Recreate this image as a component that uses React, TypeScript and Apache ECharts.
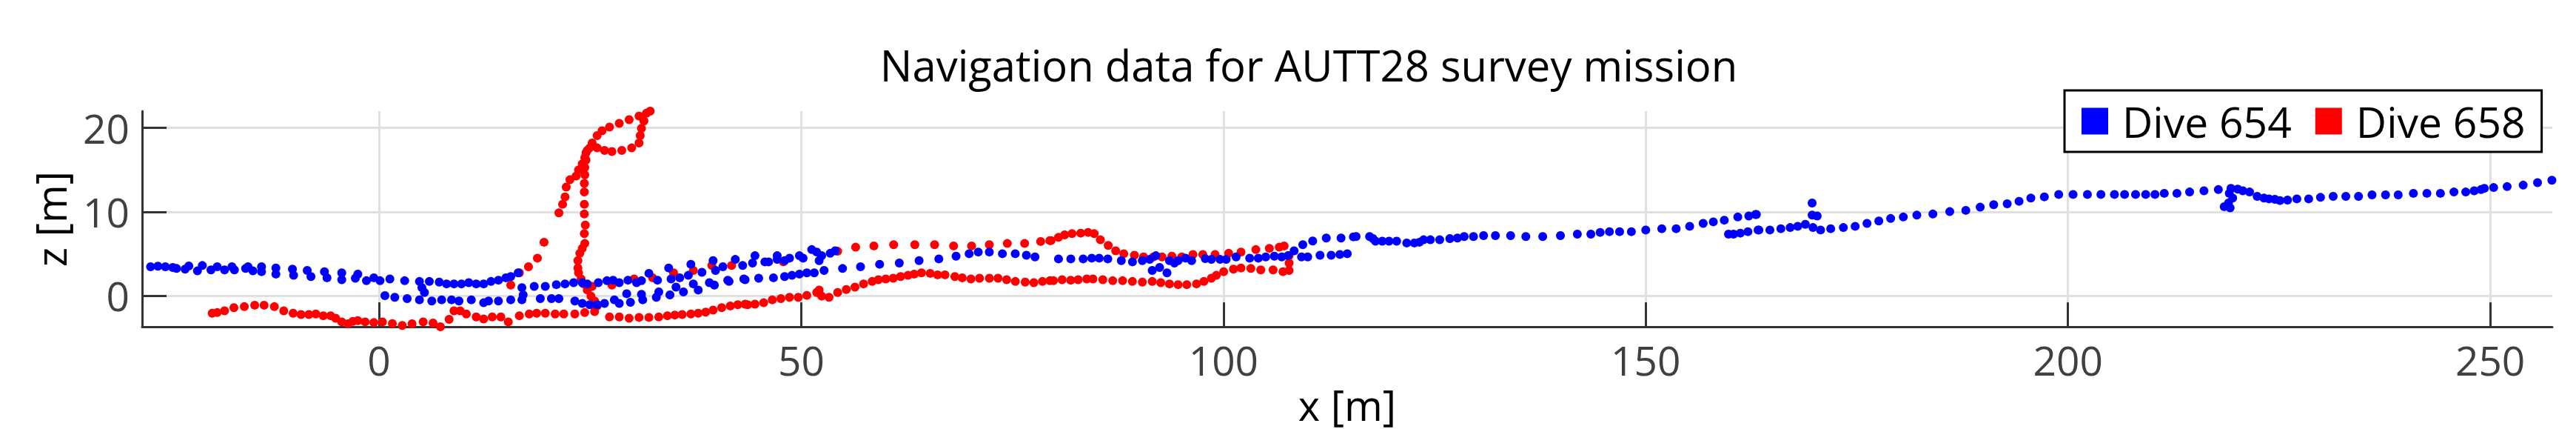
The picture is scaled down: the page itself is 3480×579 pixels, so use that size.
import React, { useEffect, useRef } from "react";
import * as echarts from "echarts";

type Pt = [number, number];

const TITLE = "Navigation data for AUTT28 survey mission";
const X_NAME = "x [m]";
const Z_NAME = "z [m]";
const X_TICKS = [0, 50, 100, 150, 200, 250];
const Z_TICKS = [0, 10, 20];
const X_MIN = -28.05;
const X_MAX = 257.35;
const Z_MIN = -3.72;
const Z_MAX = 22.0;
const SERIES_NAMES = ["Dive 654", "Dive 658"];

// ---- Dive 654 (blue) ----
const dive654West: Pt[] = [
  [-27.05, 3.45], [-26.18, 3.51], [-25.3, 3.45], [-24.42, 3.36], [-23.98, 3.24], [-22.96, 3.16],
  [-22.52, 3.53], [-21.5, 2.95], [-20.92, 3.59], [-19.9, 3.07], [-19.16, 3.45], [-18.29, 3.07],
  [-17.41, 3.45], [-17.12, 3.07], [-15.8, 3.24], [-15.51, 3.45], [-14.93, 2.95], [-13.91, 3.45],
  [-13.91, 2.86], [-12.21, 3.3], [-12.21, 2.57], [-10.25, 3.16], [-10.11, 2.42], [-8.5, 3.01],
  [-8.06, 2.28], [-6.46, 2.86], [-6.16, 2.13], [-4.41, 2.72], [-4.41, 1.9], [-2.8, 2.07],
  [-2.51, 2.57], [-1.49, 1.78], [-0.61, 2.13], [0.12, 1.78], [1.29, 1.99], [3.04, 1.78],
];

const dive654Box: Pt[] = [
  [4.79, 1.69], [5.96, 1.69], [7.13, 1.61], [5.08, 0.96], [5.38, 0.38],
  [0.7, 0.0], [1.87, -0.2], [3.33, -0.35], [4.79, -0.5], [6.25, -0.64], [7.42, -0.5],
  [8.0, 1.4], [8.88, 1.4], [9.76, 1.4], [10.63, 1.55], [11.51, 1.4], [12.39, 1.4],
  [13.26, 1.69], [14.14, 1.84], [15.02, 2.13], [15.6, 2.28], [16.48, 2.72],
  [16.92, 0.96], [17.07, 0.09], [16.92, -0.5],
  [15.6, -0.5], [14.14, -0.64], [12.97, -0.64], [12.39, -0.85], [10.93, -0.5], [9.47, -0.64], [8.59, -0.5],
];

const dive654Middle: Pt[] = [
  [18.38, 1.11], [19.69, 1.11], [21.0, 1.31], [22.03, 1.4], [23.05, 1.55], [24.07, 1.55],
  [24.66, 1.4], [25.97, 1.55], [26.99, 1.78], [27.72, 1.84], [28.45, 1.55], [29.48, 1.84],
  [30.5, 1.55], [31.08, 1.78], [31.96, 2.66], [32.98, 1.84], [34.3, 3.3], [34.59, 1.99],
  [35.61, 2.13], [36.63, 2.42], [36.93, 3.74], [38.24, 2.78], [39.56, 4.18], [39.85, 3.01],
  [40.72, 3.45], [41.45, 1.69], [42.19, 4.32], [43.06, 3.59], [43.2, 1.99],
  [19.1, -0.35], [20.42, -0.35], [21.3, -0.35], [23.19, -0.64], [24.07, -0.93], [24.95, -1.08],
  [25.83, -1.08], [26.7, -0.93], [27.87, -0.5], [28.45, -0.93], [29.33, 0.23], [29.77, -0.79],
  [31.08, 0.15], [31.23, -0.5], [32.84, -0.2], [33.13, 0.44], [34.45, 0.09], [35.17, 1.02],
  [36.05, 0.44], [37.22, 1.4], [37.8, 0.67], [39.12, 1.55], [39.71, 1.26], [41.3, 1.84],
];

const dive654Loop: Pt[] = [
  [44.23, 3.89], [44.52, 4.76], [45.69, 4.03], [46.13, 4.03], [47.15, 4.76], [47.15, 4.32],
  [48.03, 4.18], [48.61, 4.47], [49.78, 4.76], [50.22, 4.47], [51.24, 5.49], [51.83, 5.2],
  [52.42, 4.76], [52.12, 4.18], [52.7, 3.01], [51.54, 2.72], [50.66, 2.72], [49.78, 2.57],
  [48.9, 2.42], [48.03, 2.28], [46.71, 2.13], [44.96, 2.07], [43.35, 1.9], [53.43, 5.05], [54.02, 5.35],
];

const dive654Center: Pt[] = [
  [54.89, 3.24], [57.02, 3.45], [59.28, 3.74], [61.61, 3.89], [63.95, 4.18], [66.29, 4.38],
  [68.33, 4.7], [69.88, 5.0], [70.96, 5.2], [72.27, 5.2], [73.82, 5.0], [75.34, 5.0],
  [76.66, 4.82], [77.68, 4.62], [80.46, 4.38], [81.92, 4.38], [83.38, 4.38], [84.4, 4.47],
  [85.28, 4.47], [86.3, 4.38], [87.9, 4.18], [89.22, 4.03], [90.39, 4.18], [91.26, 4.32],
  [91.99, 4.76], [91.56, 3.01], [92.43, 3.36], [93.31, 2.72], [93.6, 4.18], [94.19, 3.89],
  [94.63, 4.18], [95.5, 4.47], [96.23, 4.18], [97.84, 4.41], [98.57, 4.32], [99.59, 4.32],
  [100.32, 4.32], [101.49, 4.62], [103.1, 4.47], [104.12, 4.47], [105.0, 4.62], [106.02, 4.7],
  [106.9, 4.62], [107.63, 4.76], [108.36, 5.35], [109.39, 6.08], [110.56, 6.51], [112.17, 6.87],
  [113.92, 6.87], [115.38, 7.01],
  [109.24, 4.62], [109.97, 4.62], [111.43, 4.82], [112.75, 4.82], [113.78, 4.91], [114.66, 5.0],
];

const dive654East: Pt[] = [
  [115.7, 7.04], [117.3, 7.04], [117.7, 6.8], [118.0, 6.5], [118.8, 6.5], [119.6, 6.5],
  [120.5, 6.5], [121.7, 6.28], [122.6, 6.28], [123.2, 6.37], [123.7, 6.66], [124.5, 6.66],
  [125.6, 6.66], [126.8, 6.8], [127.7, 6.87], [128.5, 7.04], [129.6, 7.04], [130.8, 7.16],
  [132.2, 7.16], [134.0, 7.16], [135.8, 7.04], [137.8, 7.04], [139.9, 7.16], [141.9, 7.33],
  [143.5, 7.33], [144.6, 7.54], [145.7, 7.63], [146.9, 7.63], [148.3, 7.63], [150.0, 7.83],
  [151.9, 7.98], [153.6, 7.98], [155.2, 8.27], [156.8, 8.62], [158.0, 8.8], [159.3, 9.0],
  [160.9, 9.38], [162.2, 9.5], [163.0, 9.67], [163.1, 9.67],
  [159.8, 7.33], [160.4, 7.33], [161.2, 7.45], [162.1, 7.63], [163.3, 7.83], [163.4, 7.83],
  [164.7, 7.83], [166.0, 7.98], [167.1, 8.12], [168.0, 8.27], [168.9, 8.5], [169.7, 11.05],
  [169.7, 9.6], [170.3, 9.5], [169.8, 8.12], [170.7, 7.83], [171.9, 7.98], [173.4, 8.12],
  [174.8, 8.27], [176.2, 8.62], [177.6, 8.9], [179.0, 9.2], [180.5, 9.38], [182.1, 9.6],
  [184.0, 9.73], [186.0, 10.02], [187.9, 10.17], [189.6, 10.55], [191.2, 10.84], [192.8, 10.96],
  [194.2, 11.25], [195.6, 11.63], [197.2, 11.78], [198.9, 12.07], [200.6, 12.07], [202.3, 12.07],
  [203.9, 12.07], [205.5, 12.07], [206.7, 12.07], [208.0, 12.07], [209.2, 12.07], [210.3, 12.07],
  [211.4, 12.2], [212.9, 12.2], [214.4, 12.36], [216.1, 12.5], [217.8, 12.65], [219.3, 12.8],
  [220.1, 12.7], [220.7, 12.5], [221.5, 12.36], [219.1, 12.2], [219.5, 11.63], [219.0, 11.05],
  [218.5, 10.61], [219.2, 10.46], [222.4, 11.84], [223.2, 11.63], [223.8, 11.54], [224.5, 11.49],
  [225.1, 11.34], [226.0, 11.4], [227.1, 11.54], [228.5, 11.54], [229.9, 11.72], [231.4, 11.84],
  [232.9, 11.84], [234.4, 11.84], [236.0, 12.01], [237.6, 12.01], [239.1, 12.01], [240.9, 12.2],
  [242.5, 12.2], [244.1, 12.2], [245.7, 12.36], [247.1, 12.36], [248.1, 12.5], [248.9, 12.65],
  [249.3, 12.8], [250.4, 12.89], [252.0, 13.0], [253.9, 13.18], [255.6, 13.47], [257.3, 13.76],
];

// ---- Dive 658 (red) ----
const dive658West: Pt[] = [
  [-19.75, -2.1], [-19.16, -2.02], [-18.29, -1.81], [-17.18, -1.43], [-15.95, -1.31], [-14.72, -1.14],
  [-13.61, -1.14], [-12.39, -1.31], [-11.28, -1.81], [-10.17, -2.1], [-9.23, -2.25], [-8.3, -2.25],
  [-7.48, -2.19], [-6.6, -2.4], [-5.73, -2.4], [-5.14, -2.69], [-4.41, -3.13], [-3.68, -3.36],
  [-3.1, -3.07], [-2.51, -2.98], [-1.64, -3.13], [-0.61, -3.21], [0.41, -3.13], [1.58, -3.33],
  [2.75, -3.56], [3.91, -3.36], [5.23, -3.13], [6.4, -3.27], [7.27, -3.71], [7.42, -3.86],
  [8.3, -2.83], [8.88, -1.81], [9.61, -1.81], [10.34, -2.19], [11.51, -2.54], [12.39, -2.78],
  [13.41, -2.54], [14.43, -2.54], [15.31, -3.13], [16.62, -2.4], [17.79, -2.19], [18.67, -2.1],
  [19.69, -2.1], [20.86, -2.19], [21.88, -2.19], [23.19, -2.19], [24.36, -2.02], [25.53, -1.9],
];

const dive658Climb: Pt[] = [
  [15.6, 1.26], [16.62, 2.72], [17.7, 3.45], [18.76, 4.47], [19.54, 6.37], [21.3, 9.87],
  [21.74, 10.9], [22.03, 11.77], [22.17, 12.94], [22.61, 13.82], [23.34, 14.26], [23.63, 14.99],
  [24.07, 15.72], [24.37, 16.45], [24.66, 17.32], [25.24, 18.2], [25.83, 19.08], [26.41, 19.66],
  [27.29, 20.1], [28.45, 20.54], [29.62, 20.98], [30.79, 21.41], [31.67, 21.76], [32.11, 22.0],
  [31.37, 20.83], [31.08, 19.95], [30.93, 19.08], [30.79, 18.2], [29.92, 17.62], [28.75, 17.32],
  [27.58, 17.18], [26.7, 17.32], [25.83, 17.62], [24.95, 17.62], [24.51, 17.03], [24.51, 16.16],
  [24.37, 15.28], [24.37, 14.4], [24.31, 13.38], [24.31, 12.36], [24.31, 10.9], [24.31, 9.73],
  [24.43, 8.41], [24.31, 7.39], [24.37, 6.22], [24.07, 5.64], [23.78, 5.05], [23.55, 4.18],
  [23.55, 3.3], [23.63, 2.72], [23.93, 1.99], [24.22, 1.4], [24.66, 0.67], [25.1, -0.06],
  [25.53, -0.64], [25.83, -1.23],
];

const dive658Upper: Pt[] = [
  [25.24, 1.11], [27.58, 1.26], [30.21, 1.99], [32.4, 2.13], [34.88, 2.72], [37.22, 3.01],
  [39.41, 3.59], [41.75, 3.59], [47.88, 4.03], [54.31, 5.29], [56.44, 5.78], [58.6, 5.93],
  [60.94, 6.08], [63.45, 6.08], [65.79, 6.08], [68.04, 5.93], [70.17, 5.93], [72.27, 6.08],
  [74.4, 6.22], [76.45, 6.22], [78.35, 6.46], [79.43, 6.57], [79.58, 6.57], [80.46, 6.95],
  [81.19, 7.25], [82.06, 7.39], [83.09, 7.45], [83.96, 7.54], [84.69, 7.39], [85.42, 6.66],
  [86.35, 5.99], [87.23, 5.35], [88.19, 5.0], [89.45, 4.82], [90.53, 4.62], [91.7, 4.62],
  [92.72, 4.62], [93.89, 4.7], [95.06, 4.62], [96.38, 4.91], [97.55, 4.91], [99.0, 4.91],
  [100.61, 5.05], [102.07, 5.2], [103.83, 5.49], [105.43, 5.64], [106.6, 5.78], [107.18, 5.93],
  [107.77, 4.76], [107.77, 3.89], [107.77, 3.01],
];

const dive658Lower: Pt[] = [
  [27.29, -2.54], [28.45, -2.54], [29.62, -2.69], [30.79, -2.6], [31.96, -2.6], [33.13, -2.54],
  [34.15, -2.4], [35.03, -2.31], [35.9, -2.25], [36.93, -2.19], [37.8, -2.1], [38.68, -1.96],
  [39.56, -1.72], [40.58, -1.43], [41.6, -1.23], [42.48, -1.08], [43.35, -1.02], [43.65, -1.08],
  [44.52, -1.02], [45.55, -0.85], [46.57, -0.5], [47.59, -0.35], [48.61, -0.2], [49.64, -0.2],
  [50.66, 0.03], [51.83, 0.38], [52.12, 0.67], [52.42, -0.06], [53.29, -0.2], [54.31, 0.38],
  [55.33, 0.73], [56.36, 1.02], [57.38, 1.4], [58.4, 1.69], [59.13, 1.9], [60.01, 1.99],
  [60.89, 2.07], [61.76, 2.28], [62.64, 2.42], [63.37, 2.57], [64.24, 2.72], [65.27, 2.66],
  [66.14, 2.48], [67.02, 2.48], [68.19, 2.28], [69.06, 2.13], [70.09, 1.99], [71.11, 2.07],
  [72.28, 2.07], [73.3, 2.07], [74.32, 1.9], [75.35, 1.69], [76.52, 1.61], [77.54, 1.55],
  [78.56, 1.69], [79.44, 1.78], [79.87, 1.78], [80.89, 1.9], [81.91, 1.84], [82.79, 1.9],
  [83.81, 1.99], [84.54, 1.99], [85.71, 1.9], [86.88, 1.78], [88.05, 1.78], [89.21, 1.69],
  [90.39, 1.61], [91.56, 1.69], [92.57, 1.55], [93.6, 1.4], [94.62, 1.31], [95.65, 1.31],
  [96.8, 1.4], [97.68, 1.69], [98.56, 2.07], [99.15, 2.42], [100.02, 2.86], [101.18, 3.16],
  [102.07, 3.3], [103.24, 3.24], [104.41, 3.07], [105.87, 3.07], [107.04, 2.86],
];

const dive654: Pt[] = [...dive654West, ...dive654Box, ...dive654Middle, ...dive654Loop, ...dive654Center, ...dive654East];
const dive658: Pt[] = [...dive658West, ...dive658Climb, ...dive658Upper, ...dive658Lower];

const FONT = "Open Sans";
const AXIS_COLOR = "#333333";
const LABEL_COLOR = "#404040";
const GRID_COLOR = "#e0e0e0";

export default function App() {
  const ref = useRef<HTMLDivElement>(null);
  useEffect(() => {
    if (!ref.current) return;
    const chart = echarts.init(ref.current, null, { renderer: "svg" });
    const axisCommon = (ticks: number[]) => ({
      type: "value" as const,
      axisLine: { show: true, onZero: false, lineStyle: { color: AXIS_COLOR, width: 3 } },
      axisTick: { show: true, inside: true, length: 33, customValues: ticks, lineStyle: { color: AXIS_COLOR, width: 3 } },
      axisLabel: { customValues: ticks, fontFamily: FONT, fontSize: 55, color: LABEL_COLOR },
      splitLine: { show: true, lineStyle: { color: GRID_COLOR, width: 3 } },
      nameTextStyle: { fontFamily: FONT, fontSize: 56, color: "#000" },
    });
    const xa: any = axisCommon(X_TICKS);
    xa.min = X_MIN;
    xa.max = X_MAX;
    xa.name = X_NAME;
    xa.nameLocation = "middle";
    xa.nameGap = 52;
    xa.axisLabel.margin = 17;
    const ya: any = axisCommon(Z_TICKS);
    ya.min = Z_MIN;
    ya.max = Z_MAX;
    ya.name = Z_NAME;
    ya.nameLocation = "middle";
    ya.nameGap = 96;
    ya.axisLabel.margin = 17;
    chart.setOption({
      animation: false,
      backgroundColor: "#ffffff",
      title: {
        text: TITLE,
        left: 1768,
        top: 58,
        textAlign: "center",
        padding: 0,
        textStyle: { fontFamily: FONT, fontSize: 58, fontWeight: "normal", color: "#000" },
      },
      legend: {
        data: SERIES_NAMES,
        left: 2789,
        top: 122,
        orient: "horizontal",
        icon: "rect",
        itemWidth: 36,
        itemHeight: 36,
        itemGap: 32,
        padding: [13, 22, 13, 23],
        borderColor: "#000",
        borderWidth: 3,
        borderRadius: 0,
        backgroundColor: "#fff",
        formatter: (name: string) => `{t|${name}}`,
        textStyle: {
          fontFamily: FONT,
          fontSize: 57,
          color: "#000",
          rich: { t: { fontFamily: FONT, fontSize: 57, color: "#000", padding: [0, 0, 0, 14] } },
        },
      },
      grid: { left: 192, right: 32, top: 150, bottom: 136 },
      xAxis: xa,
      yAxis: ya,
      series: [
        {
          type: "scatter",
          name: SERIES_NAMES[0],
          data: dive654,
          symbol: "circle",
          symbolSize: 12,
          itemStyle: { color: "#0000ff", opacity: 1 },
          z: 3,
        },
        {
          type: "scatter",
          name: SERIES_NAMES[1],
          data: dive658,
          symbol: "circle",
          symbolSize: 12,
          itemStyle: { color: "#ff0000", opacity: 1 },
          z: 2,
        },
      ],
    });
    return () => chart.dispose();
  }, []);
  return (
    <div
      ref={ref}
      style={{ position: "fixed", left: 0, top: 0, width: 3480, height: 579, background: "#fff" }}
    />
  );
}
